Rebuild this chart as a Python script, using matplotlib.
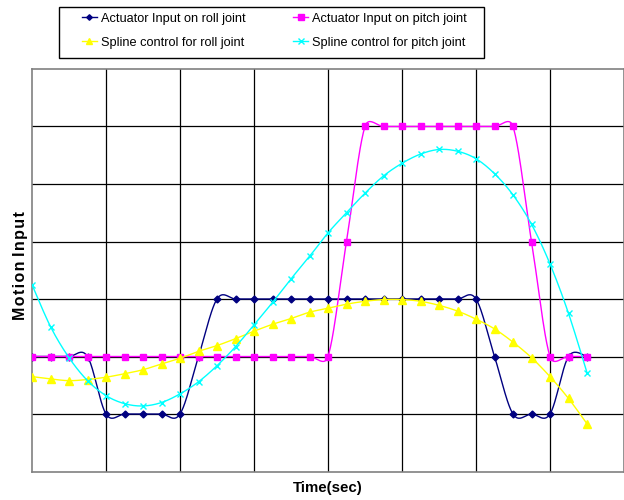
import numpy as np
import matplotlib
matplotlib.use("Agg")
import matplotlib.pyplot as plt
from matplotlib.lines import Line2D
from matplotlib.patches import Rectangle

# ---- data (time index 0..30) ----
t = list(range(31))
roll_actuator = [0, 0, 0, 0, -1, -1, -1, -1, -1, 0,
                 1, 1, 1, 1, 1, 1, 1, 1, 1, 1,
                 1, 1, 1, 1, 1, 0, -1, -1, -1, 0, 0]
pitch_actuator = [0, 0, 0, 0, 0, 0, 0, 0, 0, 0,
                  0, 0, 0, 0, 0, 0, 0, 2, 4, 4,
                  4, 4, 4, 4, 4, 4, 4, 2, 0, 0, 0]
roll_spline = [-0.35, -0.39, -0.42, -0.40, -0.36, -0.30, -0.23, -0.13, -0.03, 0.09,
               0.19, 0.31, 0.44, 0.56, 0.66, 0.77, 0.84, 0.91, 0.96, 0.99,
               0.99, 0.96, 0.89, 0.79, 0.65, 0.48, 0.25, -0.02, -0.35, -0.73, -1.17]
pitch_spline = [1.25, 0.52, -0.02, -0.42, -0.68, -0.82, -0.86, -0.80, -0.65, -0.44,
                -0.16, 0.17, 0.55, 0.94, 1.35, 1.74, 2.15, 2.50, 2.84, 3.14,
                3.36, 3.52, 3.60, 3.57, 3.44, 3.18, 2.81, 2.30, 1.61, 0.75, -0.28]

labels = ["Actuator Input on roll joint", "Actuator Input on pitch joint",
          "Spline control for roll joint", "Spline control for pitch joint"]
colors = ["#000080", "#FF00FF", "#FFFF00", "#00FFFF"]
markers = ["D", "s", "^", "x"]
msizes = [3.5, 5, 5.5, 5]

# pixel scale of one data unit (used only for the smoothing shape)
SX, SY = 18.5, 57.5


def smooth(x, y, n=24, cap=0.63):
    """Excel-like smoothed line: Catmull-Rom Bezier with capped handles."""
    x = np.asarray(x, float) * SX
    y = np.asarray(y, float) * SY
    P = np.column_stack([x, y])
    Pe = np.vstack([P[0], P, P[-1]])
    s = np.linspace(0, 1, n)[:, None]
    out = []
    for i in range(1, len(Pe) - 2):
        p0, p3 = Pe[i], Pe[i + 1]
        seg = np.linalg.norm(p3 - p0)
        h1 = (Pe[i + 1] - Pe[i - 1]) / 6
        h2 = (Pe[i + 2] - Pe[i]) / 6
        for h in (h1, h2):
            L = np.linalg.norm(h)
            if L > cap * seg and L > 0:
                h *= cap * seg / L
        c1 = p0 + h1
        c2 = p3 - h2
        b = (1 - s) ** 3 * p0 + 3 * (1 - s) ** 2 * s * c1 + 3 * (1 - s) * s ** 2 * c2 + s ** 3 * p3
        out.append(b)
    out = np.vstack(out)
    return out[:, 0] / SX, out[:, 1] / SY


regular = ["Liberation Sans", "DejaVu Sans"]

fig = plt.figure(figsize=(6.24, 5.00), dpi=100)
ax = fig.add_axes([32 / 624, 28.5 / 500, 592 / 624, 402.5 / 500])

series = [roll_actuator, pitch_actuator, roll_spline, pitch_spline]
handles = []
for i, ys in enumerate(series):
    sx, sy = smooth(t, ys)
    ax.plot(sx, sy, color=colors[i], lw=1.0, zorder=3 + i)
    ax.plot(t, ys, linestyle="none", marker=markers[i], ms=msizes[i],
            color=colors[i], mec=colors[i], mew=1.0, zorder=3 + i)
    handles.append(Line2D([], [], color=colors[i], lw=1.0, marker=markers[i],
                          ms=msizes[i] * 0.8, mec=colors[i], mew=1.0))

ax.set_xlim(0, 32)
ax.set_ylim(-2, 5)
ax.set_xticks(range(4, 32, 4))
ax.set_yticks(range(-1, 5))
ax.grid(True, color="black", lw=0.9)
ax.tick_params(length=0, labelbottom=False, labelleft=False)
for sp in ax.spines.values():
    sp.set_color("#808080")
    sp.set_linewidth(1.2)

fig.text(327.5 / 624, 1 - 488 / 500, "Time(sec)", ha="center", va="center",
         fontsize=10.8, fontweight="bold", family=regular)
fig.text(21 / 624, 1 - 265.5 / 500, "M\u200ao\u200at\u200ai\u200ao\u200an I\u200an\u200ap\u200au\u200at",
         ha="center", va="center", rotation=90, fontsize=11.5, fontweight="bold",
         family=regular)

# legend frame
fig.patches.append(Rectangle((59 / 624, 1 - 58 / 500), 425 / 624, 51 / 500,
                             transform=fig.transFigure, fill=False,
                             edgecolor="black", lw=1.0))
order = [0, 2, 1, 3]
leg = fig.legend([handles[k] for k in order], [labels[k] for k in order],
                 ncol=2, loc="upper left",
                 bbox_to_anchor=(81.7 / 624, 1 - 12.6 / 500),
                 prop={"family": regular, "size": 9.2},
                 frameon=False,
                 handlelength=1.17, handletextpad=0.31, columnspacing=3.75,
                 borderpad=0, labelspacing=0.94, borderaxespad=0)

fig.savefig("out.png", dpi=100)
